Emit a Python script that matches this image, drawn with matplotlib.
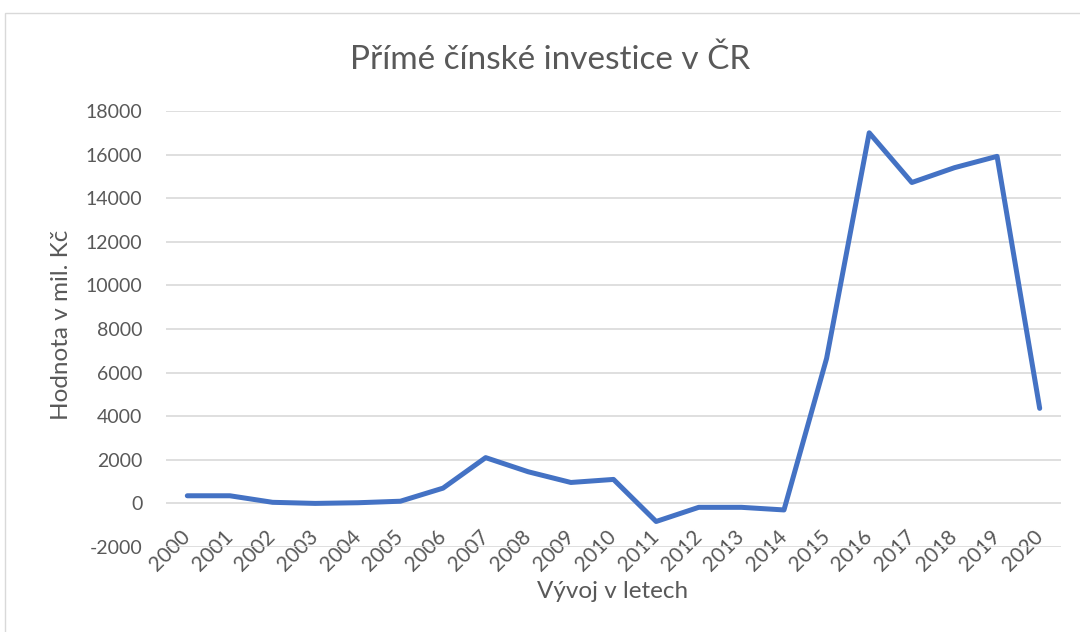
import matplotlib
matplotlib.use("Agg")
import matplotlib.pyplot as plt
from matplotlib.patches import Rectangle

years = [str(y) for y in range(2000, 2021)]
values = [350, 350, 50, 0, 30, 100, 700, 2100, 1450, 960, 1100, -830, -180, -180, -300,
          6650, 17000, 14720, 15400, 15920, 4360]
yticks = list(range(-2000, 18001, 2000))

plt.rcParams['font.family'] = ['Lato', 'DejaVu Sans']
txt = '#595959'

fig = plt.figure(figsize=(10.8, 6.32), dpi=100)
fig.patches.append(Rectangle((5/1080, -0.1), 1.2, 1 - 13/632 + 0.1, transform=fig.transFigure,
                             fill=False, edgecolor='#D9D9D9', linewidth=1.0))
ax = fig.add_axes([166/1080, 1 - 547/632, (1061 - 166)/1080, (547 - 111)/632])

x = list(range(len(years)))
ax.plot(x, values, color='#4472C4', linewidth=3.6, solid_joinstyle='round', solid_capstyle='round', zorder=3)

ax.set_xlim(-0.5, len(years) - 0.5)
ax.set_ylim(-2000, 18000)
ax.set_yticks(yticks)
ax.set_yticklabels([str(v) for v in yticks])
ax.set_xticks(x)
ax.set_xticklabels(years, rotation=45, ha='right', va='center', rotation_mode='anchor')
ax.tick_params(axis='y', length=0, labelsize=14, colors=txt, pad=17)
ax.tick_params(axis='x', length=0, labelsize=15, colors=txt, pad=-10)
for s in ax.spines.values():
    s.set_visible(False)
ax.grid(axis='y', color='#D9D9D9', linewidth=1.2)
ax.set_axisbelow(True)

fig.text(550/1080, 1 - 60/632, 'Přímé čínské investice v ČR', ha='center', va='center', fontsize=24, color=txt)
fig.text(613/1080, 1 - 592/632, 'Vývoj v letech', ha='center', va='center', fontsize=17.5, color=txt)
fig.text(62/1080, 1 - 325/632, 'Hodnota v mil. Kč', ha='center', va='center', rotation=90, fontsize=17.5, color=txt)

fig.savefig('out.png', dpi=100, facecolor='white')
